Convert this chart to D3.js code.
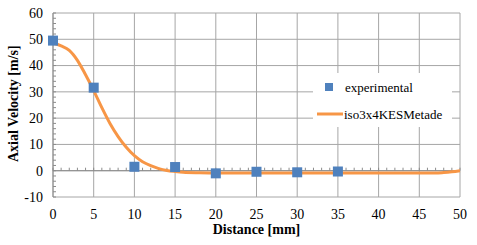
<!DOCTYPE html>
<html>
<head>
<meta charset="utf-8">
<script src="https://cdn.jsdelivr.net/npm/d3@7"></script>
<style>
  body { margin: 0; background: #fff; }
</style>
</head>
<body>
<script>
// experimental points
const expX = [0, 5, 10, 15, 20, 25, 30, 35];
const expY = [49.5, 31.6, 1.5, 1.4, -1.0, -0.4, -0.6, -0.3];

// simulation curve
const simX = [0, 1, 2, 3, 4, 5, 6, 7, 8, 9, 10, 11, 12, 13, 14, 15, 16, 18, 20, 25, 30, 35, 40, 45, 47, 48, 49, 50];
const simY = [48.6, 47.5, 45.8, 42.0, 36.5, 30.5, 24.0, 18.0, 13.0, 8.9, 5.7, 3.4, 1.9, 0.8, 0.1, -0.3, -0.6, -0.8, -0.9, -0.9, -0.9, -0.9, -0.9, -0.9, -0.9, -0.7, -0.4, 0];

const xTicks = [0, 5, 10, 15, 20, 25, 30, 35, 40, 45, 50];
const yTicks = [-10, 0, 10, 20, 30, 40, 50, 60];

const W = 477, H = 245;
const margin = { left: 53, right: 17, top: 13, bottom: 48 };
const serif = "'Liberation Serif', 'Times New Roman', serif";

const svg = d3.select("body").append("svg")
    .attr("width", W)
    .attr("height", H)
    .style("font-family", serif);

const x = d3.scaleLinear().domain([0, 50]).range([margin.left, W - margin.right]);
const y = d3.scaleLinear().domain([-10, 60]).range([H - margin.bottom, margin.top]);

const grid = "#a6a6a6";

// grid lines
svg.append("g").selectAll("line").data(xTicks).join("line")
    .attr("x1", d => x(d)).attr("x2", d => x(d))
    .attr("y1", y(60)).attr("y2", y(-10))
    .attr("stroke", grid).attr("stroke-width", 1);

svg.append("g").selectAll("line").data(yTicks).join("line")
    .attr("x1", x(0)).attr("x2", x(50))
    .attr("y1", d => y(d)).attr("y2", d => y(d))
    .attr("stroke", grid).attr("stroke-width", 1);

// minor ticks on y axis (every 2)
svg.append("g").selectAll("line").data(d3.range(-10, 61, 2)).join("line")
    .attr("x1", x(0)).attr("x2", x(0) + 3)
    .attr("y1", d => y(d)).attr("y2", d => y(d))
    .attr("stroke", "#8c8c8c");

// minor ticks on the zero line (every 1 mm)
svg.append("g").selectAll("line").data(d3.range(0, 51, 1)).join("line")
    .attr("x1", d => x(d)).attr("x2", d => x(d))
    .attr("y1", y(0)).attr("y2", y(0) - 3)
    .attr("stroke", "#8c8c8c");

// axis lines
svg.append("line").attr("x1", x(0)).attr("x2", x(0)).attr("y1", y(60)).attr("y2", y(-10)).attr("stroke", "#8c8c8c");
svg.append("line").attr("x1", x(0)).attr("x2", x(50)).attr("y1", y(0)).attr("y2", y(0)).attr("stroke", "#8c8c8c");

// tick labels
svg.append("g").selectAll("text").data(yTicks).join("text")
    .attr("x", x(0) - 10).attr("y", d => y(d))
    .attr("dy", "0.35em")
    .attr("text-anchor", "end")
    .attr("font-size", 14)
    .text(d => d);

svg.append("g").selectAll("text").data(xTicks).join("text")
    .attr("x", d => x(d)).attr("y", 214)
    .attr("dy", "0.35em")
    .attr("text-anchor", "middle")
    .attr("font-size", 14)
    .text(d => d);

// axis titles
svg.append("text")
    .attr("x", x(25)).attr("y", 229)
    .attr("dy", "0.35em")
    .attr("text-anchor", "middle")
    .attr("font-size", 14).attr("font-weight", "bold")
    .text("Distance [mm]");

svg.append("text")
    .attr("transform", "translate(13," + y(25.5) + ") rotate(-90)")
    .attr("dy", "0.35em")
    .attr("text-anchor", "middle")
    .attr("font-size", 14).attr("font-weight", "bold")
    .text("Axial Velocity [m/s]");

// simulation curve
const simData = simX.map((d, i) => ({ x: d, y: simY[i] }));
svg.append("path")
    .datum(simData)
    .attr("fill", "none")
    .attr("stroke", "#f79646")
    .attr("stroke-width", 3)
    .attr("d", d3.line().x(d => x(d.x)).y(d => y(d.y)).curve(d3.curveMonotoneX));

// experimental markers
const expData = expX.map((d, i) => ({ x: d, y: expY[i] }));
svg.append("g").selectAll("rect").data(expData).join("rect")
    .attr("x", d => x(d.x) - 5).attr("y", d => y(d.y) - 5)
    .attr("width", 10).attr("height", 10)
    .attr("fill", "#4f81bd");

// legend
const leg = svg.append("g");
leg.append("rect")
    .attr("x", 313).attr("y", 73).attr("width", 139).attr("height", 54)
    .attr("fill", "#fff");
leg.append("rect")
    .attr("x", 325).attr("y", 83).attr("width", 8).attr("height", 8)
    .attr("fill", "#4f81bd");
leg.append("text")
    .attr("x", 345).attr("y", 87).attr("dy", "0.35em")
    .attr("font-size", 13)
    .text("experimental");
leg.append("line")
    .attr("x1", 317).attr("x2", 343).attr("y1", 114).attr("y2", 114)
    .attr("stroke", "#f79646").attr("stroke-width", 3);
leg.append("text")
    .attr("x", 344).attr("y", 114).attr("dy", "0.35em")
    .attr("font-size", 13)
    .text("iso3x4KESMetade");
</script>
</body>
</html>
